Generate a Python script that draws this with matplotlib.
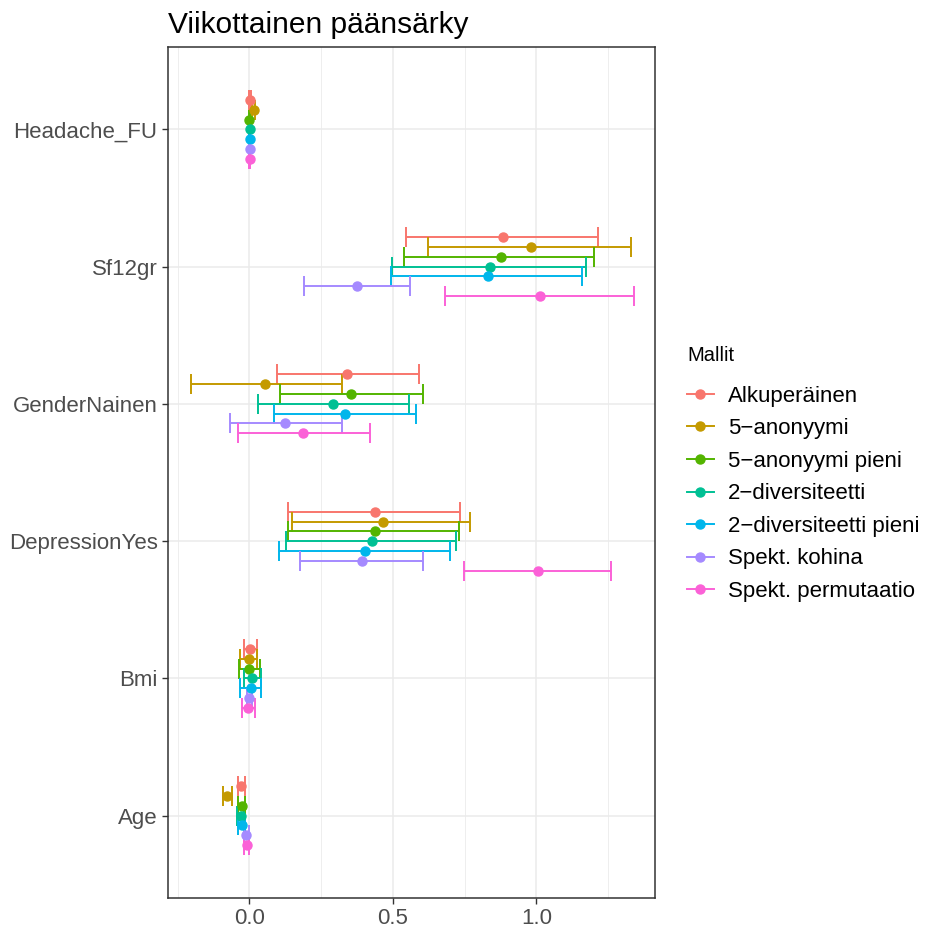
import numpy as np
import matplotlib
matplotlib.use("Agg")
import matplotlib.pyplot as plt
from matplotlib.lines import Line2D

plt.rcParams['font.family'] = ['Liberation Sans', 'DejaVu Sans']

# Variables, top to bottom in the chart
variables = ["Headache_FU", "Sf12gr", "GenderNainen", "DepressionYes", "Bmi", "Age"]

models = ["Alkuperäinen", "5\u2212anonyymi", "5\u2212anonyymi pieni", "2\u2212diversiteetti",
          "2\u2212diversiteetti pieni", "Spekt. kohina", "Spekt. permutaatio"]
colors = ["#F8766D", "#C49A00", "#53B400", "#00C094", "#00B6EB", "#A58AFF", "#FB61D7"]

# estimates per model, in the order of `variables`
est = {
    "Alkuperäinen":            [0.002, 0.883, 0.341, 0.439, 0.003, -0.028],
    "5\u2212anonyymi":          [0.015, 0.981, 0.056, 0.464, -0.003, -0.077],
    "5\u2212anonyymi pieni":    [0.000, 0.875, 0.353, 0.437, -0.002, -0.027],
    "2\u2212diversiteetti":      [0.001, 0.839, 0.290, 0.428, 0.010, -0.030],
    "2\u2212diversiteetti pieni": [0.001, 0.832, 0.334, 0.403, 0.004, -0.026],
    "Spekt. kohina":           [0.001, 0.376, 0.125, 0.392, -0.001, -0.011],
    "Spekt. permutaatio":      [0.001, 1.014, 0.187, 1.005, -0.004, -0.010],
}
lower = {
    "Alkuperäinen":            [0.000, 0.545, 0.096, 0.135, -0.019, -0.040],
    "5\u2212anonyymi":          [0.010, 0.622, -0.205, 0.150, -0.032, -0.091],
    "5\u2212anonyymi pieni":    [-0.002, 0.540, 0.107, 0.134, -0.035, -0.038],
    "2\u2212diversiteetti":      [0.000, 0.497, 0.031, 0.126, -0.018, -0.042],
    "2\u2212diversiteetti pieni": [0.000, 0.495, 0.086, 0.103, -0.031, -0.038],
    "Spekt. kohina":           [0.000, 0.191, -0.067, 0.176, -0.009, -0.019],
    "Spekt. permutaatio":      [0.000, 0.681, -0.041, 0.747, -0.027, -0.018],
}
upper = {
    "Alkuperäinen":            [0.004, 1.213, 0.591, 0.734, 0.026, -0.017],
    "5\u2212anonyymi":          [0.020, 1.330, 0.322, 0.768, 0.028, -0.062],
    "5\u2212anonyymi pieni":    [0.002, 1.201, 0.605, 0.730, 0.036, -0.016],
    "2\u2212diversiteetti":      [0.002, 1.171, 0.556, 0.720, 0.039, -0.018],
    "2\u2212diversiteetti pieni": [0.002, 1.159, 0.581, 0.699, 0.039, -0.015],
    "Spekt. kohina":           [0.002, 0.561, 0.321, 0.605, 0.009, -0.002],
    "Spekt. permutaatio":      [0.002, 1.340, 0.420, 1.261, 0.020, -0.001],
}

fig = plt.figure(figsize=(9.25, 9.31), dpi=100)
ax = fig.add_axes([168 / 925, 1 - 898 / 931, (655 - 168) / 925, (898 - 47) / 931])

n_var = len(variables)
base = np.arange(n_var, 0, -1)  # Headache_FU at top
dodge = 0.5 / len(models)

for i, m in enumerate(models):
    y = base + (3 - i) * dodge
    e = np.array(est[m])
    lo = np.array(lower[m])
    hi = np.array(upper[m])
    ax.errorbar(e, y, xerr=[e - lo, hi - e], fmt='o', color=colors[i],
                markersize=6.5, elinewidth=1.4, capsize=7.5, capthick=1.4, zorder=3)

ax.set_xlim(-0.2835, 1.413)
ax.set_ylim(0.4, n_var + 0.6)
ax.set_yticks(base)
ax.set_yticklabels(variables)
ax.set_xticks([0.0, 0.5, 1.0])
ax.set_xticklabels(["0.0", "0.5", "1.0"])
ax.set_xticks([-0.25, 0.25, 0.75, 1.25], minor=True)
ax.tick_params(axis='both', which='major', labelsize=16, labelcolor='#4D4D4D',
               color='#333333', length=4, width=1)
ax.tick_params(axis='x', which='minor', length=0)
ax.grid(True, which='major', color='#EBEBEB', linewidth=1.1, zorder=0)
ax.grid(True, which='minor', axis='x', color='#EBEBEB', linewidth=0.6, zorder=0)
ax.set_axisbelow(True)
for s in ax.spines.values():
    s.set_color('#333333')
    s.set_linewidth(1.1)

ax.set_title("Viikottainen päänsärky", loc='left', fontsize=21.5, pad=10)

handles = [Line2D([0], [0], color=c, marker='o', markersize=6.5, linewidth=1.4) for c in colors]
leg = fig.legend(handles, models, title="Mallit", loc='center left',
                 bbox_to_anchor=(687 / 925, 0.491), frameon=False, fontsize=16,
                 title_fontsize=14.5, handlelength=1.2, labelspacing=0.52,
                 handletextpad=0.65, borderpad=0, borderaxespad=0)
leg._legend_box.align = "left"
leg._legend_box.sep = 15

fig.savefig("out.png", dpi=100)
